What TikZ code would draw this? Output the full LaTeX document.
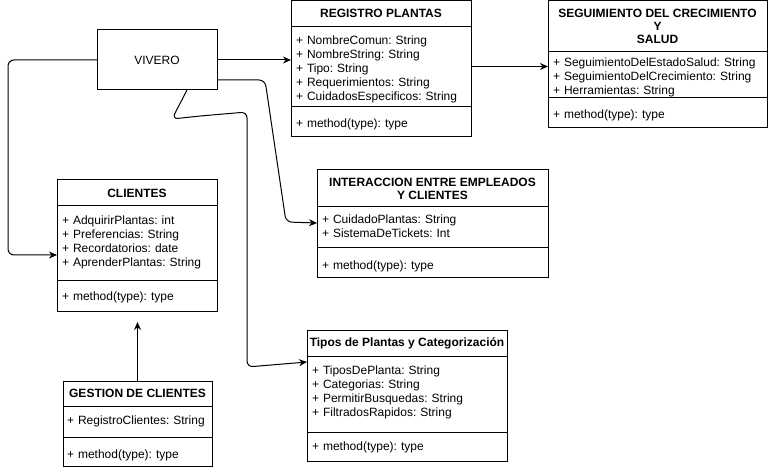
\documentclass[tikz,border=0pt]{standalone}
\usepackage{fontspec}
\setmainfont{Liberation Sans}
\frenchspacing
\usetikzlibrary{positioning,arrows.meta}
\tikzset{
  umlhead/.style={draw, outer sep=0pt, inner sep=0pt, align=center, font=\bfseries\fontsize{12}{13}\selectfont},
  umlsec/.style 2 args={draw, outer sep=0pt, inner xsep=5pt, inner ysep=0pt, align=left, text height=#1, text depth=#2, font=\fontsize{12}{14}\selectfont},
  conn/.style={-{Stealth[length=8pt,width=7pt]}, rounded corners=6pt},
}
\begin{document}
\begin{tikzpicture}[x=1pt, y=-1pt, line width=1pt]
    \useasboundingbox (0,0) rectangle (768,470);
    % vivero
    \node[draw, outer sep=0pt, minimum width=120pt, minimum height=60pt, anchor=north west, font=\fontsize{12}{14}\selectfont] (viv) at (97,30) {VIVERO};
    % registro plantas
    \node[umlhead, minimum width=180pt, minimum height=26pt, anchor=north west] (regH) at (291,0.5) {REGISTRO PLANTAS};
    \node[umlsec={18pt}{62pt}, text width=170pt, below=0pt of regH] (regA) {+ NombreComun: String\\+ NombreString: String\\+ Tipo: String\\+ Requerimientos: String\\+ CuidadosEspecificos: String};
    \node[umlsec={21pt}{9pt}, text width=170pt, below=0pt of regA] (regM) {+ method(type): type};
    % seguimiento
    \node[umlhead, minimum width=219pt, minimum height=51pt, anchor=north west] (segH) at (548,1) {SEGUIMIENTO DEL CRECIMIENTO\\Y\\SALUD};
    \node[umlsec={15pt}{31pt}, text width=209pt, below=0pt of segH] (segA) {+ SeguimientoDelEstadoSalud: String\\+ SeguimientoDelCrecimiento: String\\+ Herramientas: String};
    \node[umlsec={21pt}{9pt}, text width=209pt, below=0pt of segA] (segM) {+ method(type): type};
    % clientes
    \node[umlhead, minimum width=160pt, minimum height=26pt, anchor=north west] (cliH) at (57,180) {CLIENTES};
    \node[umlsec={19pt}{56pt}, text width=150pt, below=0pt of cliH] (cliA) {+ AdquirirPlantas: int\\+ Preferencias: String\\+ Recordatorios: date\\+ AprenderPlantas: String};
    \node[umlsec={19pt}{11pt}, text width=150pt, below=0pt of cliA] (cliM) {+ method(type): type};
    % interaccion
    \node[umlhead, minimum width=231pt, minimum height=37pt, anchor=north west] (intH) at (317,170) {INTERACCION ENTRE EMPLEADOS\\Y CLIENTES};
    \node[umlsec={17pt}{24pt}, text width=221pt, below=0pt of intH] (intA) {+ CuidadoPlantas: String\\+ SistemaDeTickets: Int};
    \node[umlsec={22pt}{8pt}, text width=221pt, below=0pt of intA] (intM) {+ method(type): type};
    % gestion de clientes
    \node[umlhead, minimum width=149pt, minimum height=25pt, anchor=north west] (gesH) at (63,381) {GESTION DE CLIENTES};
    \node[umlsec={18pt}{13pt}, inner xsep=4pt, text width=141pt, below=0pt of gesH] (gesA) {+ RegistroClientes: String};
    \node[umlsec={21pt}{8pt}, inner xsep=4pt, text width=141pt, below=0pt of gesA] (gesM) {+ method(type): type};
    % tipos de plantas
    \node[umlhead, minimum width=200pt, minimum height=26pt, anchor=north west] (tipH) at (307,330) {Tipos de Plantas y Categorización};
    \node[umlsec={18pt}{58pt}, text width=190pt, below=0pt of tipH] (tipA) {+ TiposDePlanta: String\\+ Categorias: String\\+ PermitirBusquedas: String\\+ FiltradosRapidos: String};
    \node[umlsec={18pt}{11pt}, text width=190pt, below=0pt of tipA] (tipM) {+ method(type): type};
    % connectors
    \draw[conn] (viv.east) -- (viv.east -| regA.west);
    \draw[conn] (regA.east) -- (regA.east -| segA.west);
    \draw[conn] (viv.west) -- (8,60) -- (8,255) -- (8,255 -| cliA.west);
    \draw[conn] ([xshift=30pt]viv.south) -- (172,119) -- (200,116) -- (247,112) -- (247,367) -- (306,362 -| tipA.west);
    \draw[conn] ([yshift=-20pt]viv.east) -- (265,80) -- (286,222) -- (286,223 -| intA.west);
    \draw[conn, shorten >=11pt] (gesH.north) -- (gesH.north |- cliM.south);
\end{tikzpicture}
\end{document}
